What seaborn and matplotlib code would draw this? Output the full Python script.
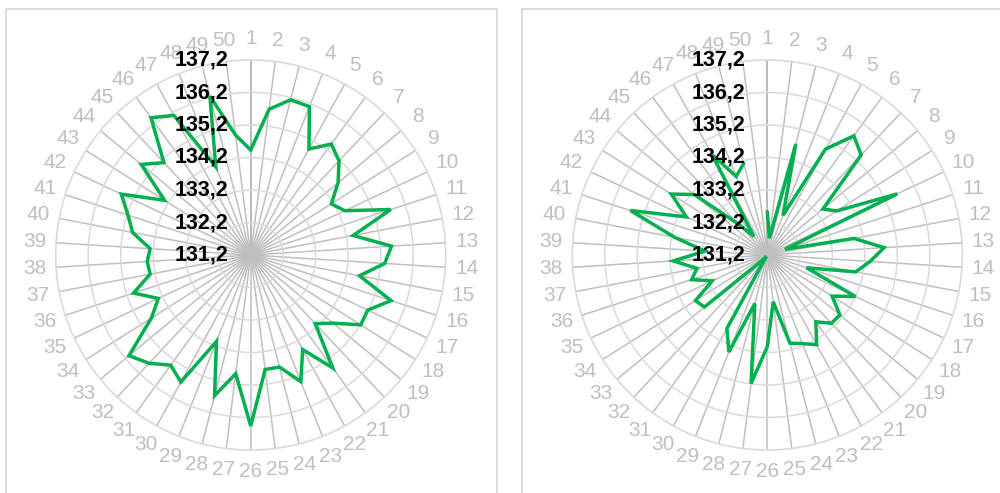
import numpy as np
import pandas as pd
import matplotlib
matplotlib.use("Agg")
import matplotlib.pyplot as plt
from matplotlib.patches import Rectangle
import seaborn as sns

# Category labels around the radar (1..50)
categories = [str(i) for i in range(1, 51)]

# Series values per category (left and right charts); NaN = empty cell
left_values = [
    134.43, 135.72, 136.13, 136.11, 134.92, 135.42, 135.17, 134.69, 134.14, 134.40,
    135.73, 134.41, 135.54, 135.33, 134.61, 135.74, 135.18, 135.21, 134.49, 134.10,
    135.50, 134.52, 135.39, 134.76, 134.75, 136.46, 134.88, 135.67, 134.06, 135.66,
    135.39, 135.77, 136.06, 134.82, 134.34, 134.99, 134.35, 134.39, 134.30, 134.90,
    135.17, 135.60, 134.34, 135.57, 135.10, 136.42, 136.10, 134.12, 136.24, 134.92,
]
right_values = [
    132.53, 131.72, 134.73, 132.51, 134.92, 135.73, 135.42, 133.42, 133.73, 135.62,
    131.77, 133.92, 134.80, 134.37, 133.97, 132.47, 134.20, 133.56, 134.10, 134.08,
    133.74, 134.35, 134.13, 134.00, 132.65, 134.02, 135.19, 132.74, 134.41, 133.78,
    131.25, 131.43, 133.71, 133.82, 133.07, 133.65, 133.40, 134.10, 133.12, 134.10,
    135.63, 133.95, 134.70, 134.12, 132.52, 131.91, 134.72, 133.80, 134.11, np.nan,
]

# Value axis
r_min, r_max = 131.2, 137.2
r_ticks = [131.2, 132.2, 133.2, 134.2, 135.2, 136.2, 137.2]
r_tick_labels = ["131,2", "132,2", "133,2", "134,2", "135,2", "136,2", "137,2"]

LINE_COLOR = "#00b050"
SPOKE_COLOR = "#bfbfbf"
RING_COLOR = "#d9d9d9"
CAT_COLOR = "#bfbfbf"

sns.set_theme(style="white")
plt.rcParams["font.family"] = ["Liberation Sans", "DejaVu Sans"]

fig = plt.figure(figsize=(10, 4.93), dpi=100)

# Panel frames
for x0, x1 in [(5.5, 497.0), (521.5, 1010.0)]:
    fig.patches.append(Rectangle((x0 / 1000, -0.05), (x1 - x0) / 1000, 1 - 8.5 / 493 + 0.05,
                                 transform=fig.transFigure, fill=False,
                                 edgecolor="#d9d9d9", linewidth=1.3, zorder=0))

angles = np.deg2rad(np.arange(len(categories)) * 360.0 / len(categories))


def series_frame(values):
    th = list(angles) + [2 * np.pi]
    v = list(values) + [values[0]]
    df = pd.DataFrame({"theta": th, "value": v})
    df["segment"] = df["value"].isna().cumsum()
    return df.dropna()


radius_px = 195.0
for cx, values in [(250.7, left_values), (767.3, right_values)]:
    cy = 255.0
    rect = [(cx - radius_px) / 1000, 1 - (cy + radius_px) / 493,
            2 * radius_px / 1000, 2 * radius_px / 493]
    ax = fig.add_axes(rect, projection="polar")
    ax.set_facecolor("none")
    ax.set_theta_zero_location("N")
    ax.set_theta_direction(-1)

    df = series_frame(values)
    sns.lineplot(data=df, x="theta", y="value", units="segment", estimator=None,
                 sort=False, color=LINE_COLOR, linewidth=2.5, ax=ax, legend=False,
                 zorder=5)
    for ln in ax.lines:
        ln.set_solid_joinstyle("miter")

    ax.set_xlabel("")
    ax.set_ylabel("")
    ax.set_xticks(angles)
    ax.set_xticklabels([])
    ax.set_ylim(r_min, r_max)
    ax.set_yticks(r_ticks[1:-1])
    ax.set_yticklabels([])
    ax.grid(True)
    for gl in ax.xaxis.get_gridlines():
        gl.set_color(SPOKE_COLOR)
        gl.set_linewidth(1.1)
        gl.set_linestyle("-")
    for gl in ax.yaxis.get_gridlines():
        gl.set_color(RING_COLOR)
        gl.set_linewidth(1.1)
        gl.set_linestyle("-")
    ax.xaxis.get_gridlines()[0].set_color("#a6a6a6")
    ax.spines["polar"].set_color(RING_COLOR)
    ax.spines["polar"].set_linewidth(1.2)
    ax.tick_params(length=0)

    # Category labels outside the outer ring
    r_lab = r_max + (r_max - r_min) * 21.5 / radius_px
    for ang, lab in zip(angles, categories):
        ax.text(ang, r_lab, lab, ha="center", va="center", color=CAT_COLOR,
                fontsize=15, clip_on=False)

    # Value axis labels to the left of the vertical axis
    for rv, lab in zip(r_ticks, r_tick_labels):
        ax.annotate(lab, xy=(0, rv), xytext=(-22, 0), textcoords="offset pixels",
                    ha="right", va="center", fontsize=15.5, fontweight="bold",
                    color="black", zorder=6, annotation_clip=False)

fig.savefig("out.png", dpi=100)
